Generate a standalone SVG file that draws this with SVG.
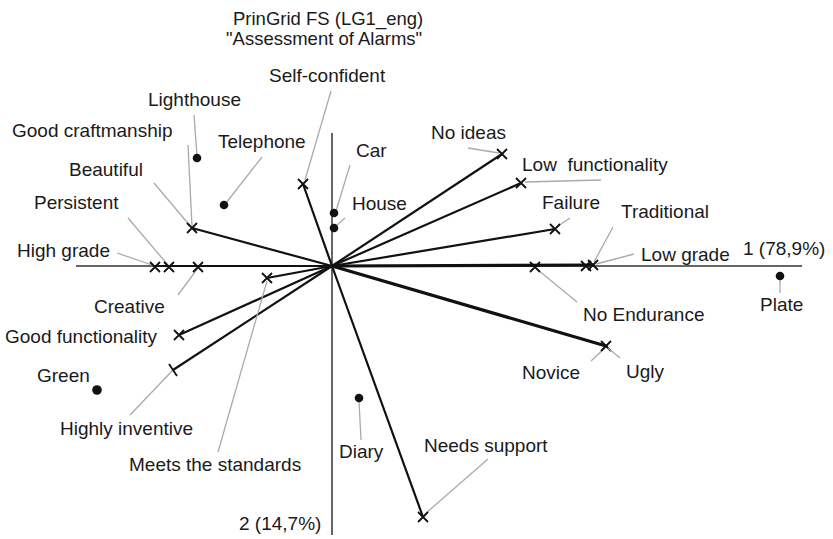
<svg xmlns="http://www.w3.org/2000/svg" xmlns:xlink="http://www.w3.org/1999/xlink" width="833" height="539" viewBox="0 0 833 539">
<style>
text{font-family:"Liberation Sans",Arial,sans-serif;font-size:19px;fill:#1a1a1a}
.ttl{font-size:18.5px}
.axis{stroke:#333;stroke-width:1.5;fill:none}
.vec{stroke:#111;stroke-width:2.2;fill:none;stroke-linecap:round}
.vecb{stroke:#111;stroke-width:3.2;fill:none;stroke-linecap:round}
.lead{stroke:#aaa;stroke-width:1.3;fill:none}
.mk{stroke:#111;stroke-width:1.8;fill:none}
.dot{fill:#111}
</style>
<defs>
<path id="x" class="mk" d="M-5,-5 L5,5 M-5,5 L5,-5"/>
</defs>
<rect width="833" height="539" fill="#fff"/>
<g id="title">
<text class="ttl" x="233" y="25">PrinGrid FS (LG1_eng)</text>
<text class="ttl" x="226" y="45">"Assessment of Alarms"</text>
</g>
<g id="axes">
<line class="axis" x1="76" y1="266" x2="802" y2="266"/>
<line class="axis" x1="332" y1="133" x2="332" y2="535"/>
<text x="743" y="255">1 (78,9%)</text>
<text x="239" y="530">2 (14,7%)</text>
</g>
<g id="connectors">
<line class="vec" x1="332" y1="266" x2="303" y2="184"/>
<line class="vec" x1="332" y1="266" x2="192" y2="228"/>
<line class="vec" x1="332" y1="266" x2="155" y2="266"/>
<line class="vec" x1="332" y1="266" x2="267" y2="278"/>
<line class="vec" x1="332" y1="266" x2="179" y2="335"/>
<line class="vec" x1="332" y1="266" x2="173" y2="370"/>
<line class="vec" x1="332" y1="266" x2="423" y2="517"/>
<line class="vec" x1="332" y1="266" x2="502" y2="154"/>
<line class="vec" x1="332" y1="266" x2="521" y2="183"/>
<line class="vec" x1="332" y1="266" x2="555" y2="229"/>
<line class="vecb" x1="332" y1="266" x2="593" y2="265"/>
<line class="vecb" x1="332" y1="266" x2="606" y2="346"/>
</g>
<g id="self-confident">
<line class="lead" x1="305" y1="180" x2="331" y2="91"/>
<use xlink:href="#x" x="303" y="184"/>
<text x="269" y="82">Self-confident</text>
</g>
<g id="beautiful">
<line class="lead" x1="154" y1="183" x2="191" y2="227"/>
<use xlink:href="#x" x="192" y="228"/>
<text x="69" y="176">Beautiful</text>
</g>
<g id="good-craftmanship">
<line class="lead" x1="188" y1="145" x2="192" y2="226"/>
<text x="12" y="137">Good craftmanship</text>
</g>
<g id="lighthouse">
<line class="lead" x1="194" y1="115" x2="197" y2="156"/>
<circle class="dot" cx="197" cy="158" r="4.3"/>
<text x="148" y="106">Lighthouse</text>
</g>
<g id="telephone">
<line class="lead" x1="262" y1="157" x2="226" y2="203"/>
<circle class="dot" cx="224" cy="205" r="4.3"/>
<text x="218" y="148">Telephone</text>
</g>
<g id="car">
<line class="lead" x1="350" y1="165" x2="336" y2="211"/>
<circle class="dot" cx="334" cy="213" r="4.3"/>
<text x="356" y="157">Car</text>
</g>
<g id="house">
<line class="lead" x1="345" y1="218" x2="336" y2="226"/>
<circle class="dot" cx="334" cy="228" r="4.3"/>
<text x="352" y="210">House</text>
</g>
<g id="high-grade">
<line class="lead" x1="117" y1="253" x2="152" y2="265"/>
<use xlink:href="#x" x="155" y="267"/>
<text x="17" y="257">High grade</text>
</g>
<g id="persistent">
<line class="lead" x1="128" y1="218" x2="168" y2="265"/>
<use xlink:href="#x" x="169" y="267"/>
<text x="34" y="209">Persistent</text>
</g>
<g id="creative">
<line class="lead" x1="178" y1="295" x2="198" y2="268"/>
<use xlink:href="#x" x="198" y="267"/>
<text x="94" y="313">Creative</text>
</g>
<g id="meets-the-standards">
<line class="lead" x1="218" y1="452" x2="267" y2="281"/>
<use xlink:href="#x" x="267" y="278"/>
<text x="129" y="471">Meets the standards</text>
</g>
<g id="good-functionality">
<use xlink:href="#x" x="179" y="335"/>
<text x="5" y="343">Good functionality</text>
</g>
<g id="highly-inventive">
<line class="lead" x1="130" y1="415" x2="172" y2="371"/>
<line class="mk" x1="169" y1="364" x2="177" y2="376"/>
<text x="60" y="435">Highly inventive</text>
</g>
<g id="green">
<circle class="dot" cx="97" cy="390" r="4.8"/>
<text x="37" y="382">Green</text>
</g>
<g id="diary">
<line class="lead" x1="359" y1="401" x2="361" y2="440"/>
<circle class="dot" cx="359" cy="398" r="4.3"/>
<text x="339" y="458">Diary</text>
</g>
<g id="needs-support">
<line class="lead" x1="425" y1="514" x2="488" y2="459"/>
<use xlink:href="#x" x="423" y="517"/>
<text x="424" y="452">Needs support</text>
</g>
<g id="no-ideas">
<line class="lead" x1="468" y1="148" x2="499" y2="153"/>
<use xlink:href="#x" x="502" y="154"/>
<text x="431" y="139">No ideas</text>
</g>
<g id="low-functionality">
<line class="lead" x1="525" y1="182" x2="601" y2="180"/>
<use xlink:href="#x" x="521" y="183"/>
<text x="522" y="171" xml:space="preserve">Low  functionality</text>
</g>
<g id="failure">
<line class="lead" x1="558" y1="226" x2="570" y2="218"/>
<use xlink:href="#x" x="555" y="229"/>
<text x="542" y="209">Failure</text>
</g>
<g id="traditional">
<line class="lead" x1="594" y1="262" x2="613" y2="227"/>
<use xlink:href="#x" x="593" y="265"/>
<text x="621" y="218">Traditional</text>
</g>
<g id="low-grade">
<line class="lead" x1="596" y1="264" x2="634" y2="254"/>
<use xlink:href="#x" x="586" y="266"/>
<text x="641" y="261">Low grade</text>
</g>
<g id="no-endurance">
<line class="lead" x1="538" y1="270" x2="577" y2="302"/>
<use xlink:href="#x" x="535" y="267"/>
<text x="583" y="321">No Endurance</text>
</g>
<g id="novice">
<line class="lead" x1="605" y1="348" x2="591" y2="361"/>
<use xlink:href="#x" x="606" y="346"/>
<text x="522" y="379">Novice</text>
</g>
<g id="ugly">
<line class="lead" x1="608" y1="348" x2="620" y2="358"/>
<text x="626" y="378">Ugly</text>
</g>
<g id="plate">
<line class="lead" x1="780" y1="279" x2="780" y2="293"/>
<circle class="dot" cx="780" cy="276" r="4.3"/>
<text x="760" y="311">Plate</text>
</g>
</svg>
